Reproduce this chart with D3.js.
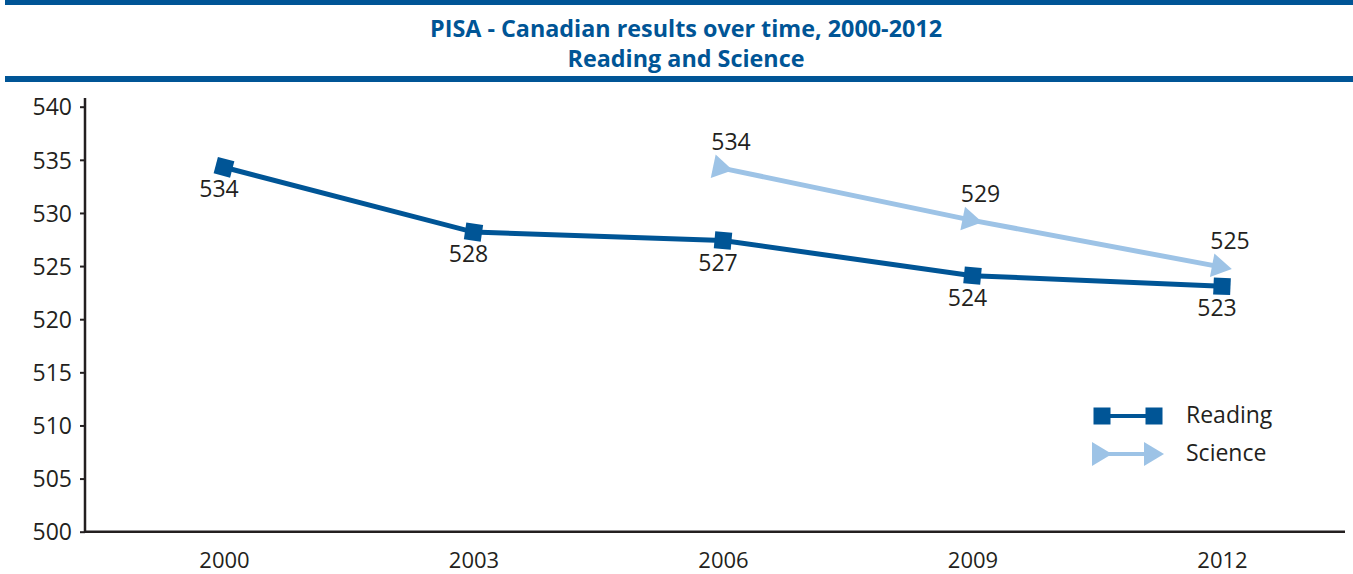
<!DOCTYPE html>
<html>
<head>
<meta charset="utf-8">
<script src="https://cdn.jsdelivr.net/npm/d3@7"></script>
<style>
  html, body { margin: 0; padding: 0; background: #fff; }
  svg { display: block; }
  text { font-family: "Open Sans", "Noto Sans", sans-serif; fill: #231f20; }
</style>
</head>
<body>
<svg id="chart" width="1353" height="574"></svg>
<script>
// ---- data ----
const titleLines = ["PISA - Canadian results over time, 2000-2012", "Reading and Science"];
const years = ["2000", "2003", "2006", "2009", "2012"];
const readingValues = [534.3, 528.2, 527.4, 524.1, 523.1];
const scienceYears = ["2006", "2009", "2012"];
const scienceValues = [534.2, 529.3, 524.9];
const yTicks = [500, 505, 510, 515, 520, 525, 530, 535, 540];
const seriesNames = ["Reading", "Science"];

// ---- layout ----
const W = 1353, H = 574;
const blue = "#005596", light = "#9dc3e6", ink = "#231f20";
const svg = d3.select("#chart");

// title bars
svg.append("rect").attr("x", 5).attr("y", 0).attr("width", W - 5).attr("height", 5).attr("fill", blue);
svg.append("rect").attr("x", 5).attr("y", 76).attr("width", W - 5).attr("height", 6).attr("fill", blue);
const tWidths = [512, 237];
titleLines.forEach((t, i) => {
  svg.append("text")
    .attr("x", 686).attr("y", 37 + i * 30)
    .attr("text-anchor", "middle")
    .attr("textLength", tWidths[i]).attr("lengthAdjust", "spacingAndGlyphs")
    .style("font-size", "23px").style("font-weight", 700).style("fill", blue)
    .text(t);
});

// scales
const x = d3.scalePoint().domain(years).range([224, 1222]);
const y = d3.scaleLinear().domain([500, 540]).range([531.7, 106.7]);

// y axis
const yAxis = svg.append("g").attr("transform", "translate(85,0)")
  .call(d3.axisLeft(y).tickValues(yTicks).tickSize(5).tickSizeOuter(0).tickPadding(8));
yAxis.select(".domain").remove();
yAxis.selectAll(".tick line").attr("stroke", ink).attr("stroke-width", 2);
yAxis.selectAll(".tick text").style("font-size", "23px").style("font-family", "'Open Sans', sans-serif").attr("fill", ink).attr("dy", "0.36em");
svg.append("line").attr("x1", 85).attr("x2", 85).attr("y1", y(500) + 1).attr("y2", 98)
  .attr("stroke", ink).attr("stroke-width", 2.5);

// x axis
const xAxis = svg.append("g").attr("transform", `translate(0,${y(500)})`)
  .call(d3.axisBottom(x).tickSize(0).tickPadding(18));
xAxis.select(".domain").remove();
xAxis.selectAll(".tick text").style("font-size", "22px").style("font-family", "'Open Sans', sans-serif").attr("fill", ink).attr("dy", "0.85em");
svg.append("line").attr("x1", 84).attr("x2", 1345).attr("y1", y(500)).attr("y2", y(500))
  .attr("stroke", ink).attr("stroke-width", 2.5);

// markers
const defs = svg.append("defs");
defs.append("marker").attr("id", "sq")
  .attr("markerUnits", "userSpaceOnUse").attr("markerWidth", 20).attr("markerHeight", 20)
  .attr("viewBox", "-10 -10 20 20").attr("refX", 0).attr("refY", 0).attr("orient", "auto")
  .append("rect").attr("x", -8.5).attr("y", -8.5).attr("width", 17).attr("height", 17).attr("fill", blue);
defs.append("marker").attr("id", "tri")
  .attr("markerUnits", "userSpaceOnUse").attr("markerWidth", 26).attr("markerHeight", 26)
  .attr("viewBox", "-13 -13 26 26").attr("refX", 0).attr("refY", 0).attr("orient", "auto")
  .append("path").attr("d", "M-10,-12 L10,0 L-10,12 Z").attr("fill", light);

const line = d3.line().x(d => x(d[0])).y(d => y(d[1]));
const readingData = years.map((yr, i) => [yr, readingValues[i]]);
const scienceData = scienceYears.map((yr, i) => [yr, scienceValues[i]]);

svg.append("path").datum(scienceData).attr("d", line)
  .attr("fill", "none").attr("stroke", light).attr("stroke-width", 5)
  .attr("marker-start", "url(#tri)").attr("marker-mid", "url(#tri)").attr("marker-end", "url(#tri)");
svg.append("path").datum(readingData).attr("d", line)
  .attr("fill", "none").attr("stroke", blue).attr("stroke-width", 5)
  .attr("marker-start", "url(#sq)").attr("marker-mid", "url(#sq)").attr("marker-end", "url(#sq)");

// value labels
svg.selectAll(".rlab").data(readingData).enter().append("text")
  .attr("x", d => x(d[0]) - 5).attr("y", d => y(d[1]) + 30)
  .attr("text-anchor", "middle").style("font-size", "23px").text(d => Math.round(d[1]));
svg.selectAll(".slab").data(scienceData).enter().append("text")
  .attr("x", d => x(d[0]) + 8).attr("y", d => y(d[1]) - 18)
  .attr("text-anchor", "middle").style("font-size", "23px").text(d => Math.round(d[1]));

// legend
const lg = svg.append("g");
const legendY = [416, 454];
[["sq", blue], ["tri", light]].forEach(([m, c], i) => {
  lg.append("path").attr("d", `M1102,${legendY[i]} L1154,${legendY[i]}`)
    .attr("stroke", c).attr("stroke-width", 4).attr("fill", "none")
    .attr("marker-start", `url(#${m})`).attr("marker-end", `url(#${m})`);
  lg.append("text").attr("x", 1186).attr("y", legendY[i] + 7)
    .style("font-size", "23px").text(seriesNames[i]);
});
</script>
</body>
</html>
